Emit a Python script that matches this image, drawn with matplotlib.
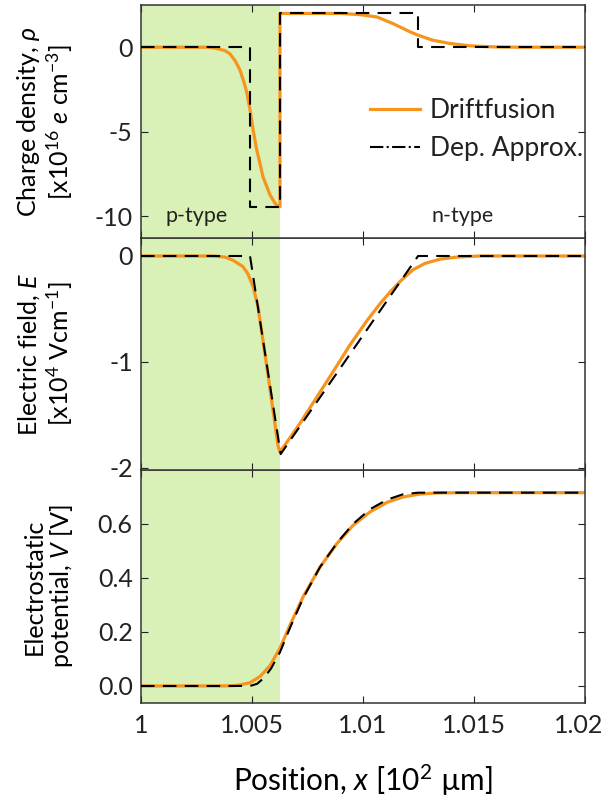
#!/usr/bin/env python3
"""p-n junction: Driftfusion vs depletion approximation (rho, E, V)."""
import matplotlib
matplotlib.use("Agg")
import matplotlib.pyplot as plt
from matplotlib.lines import Line2D
from matplotlib.transforms import ScaledTranslation

# ---- data (x in 10^2 um) ----
# charge density [1e16 e cm^-3]
rho_df_x = [1.0, 1.00300, 1.00333, 1.00378, 1.00401, 1.00424, 1.00446, 1.00462,
            1.00477, 1.00491, 1.00505, 1.00520, 1.00536, 1.00550, 1.00568,
            1.00581, 1.00595, 1.00607, 1.00617, 1.00626, 1.00626, 1.00900,
            1.00986, 1.01063, 1.01135, 1.01212, 1.01248, 1.01315, 1.01392,
            1.01482, 1.01586, 1.01700, 1.02]
rho_df_y = [0, 0, -0.05, -0.2, -0.4, -0.8, -1.36, -2.0, -2.7, -3.7, -4.9, -6.0,
            -6.9, -7.7, -8.3, -8.75, -9.05, -9.3, -9.4, -9.45, 2.0, 2.0, 1.93,
            1.79, 1.40, 0.91, 0.71, 0.41, 0.22, 0.08, 0.02, 0, 0]
rho_da_x = [1.0, 1.00491, 1.00491, 1.00626, 1.00626, 1.01248, 1.01248, 1.02]
rho_da_y = [0, 0, -9.45, -9.45, 2.0, 2.0, 0, 0]

# electric field [1e4 V cm^-1]
e_df_x = [1.0, 1.00320, 1.00378, 1.00414, 1.00459, 1.00482, 1.00505, 1.00527,
          1.00572, 1.00617, 1.00626, 1.00716, 1.00869, 1.00941, 1.01018,
          1.01077, 1.01122, 1.01167, 1.01225, 1.01279, 1.01347, 1.01423,
          1.01527, 1.02]
e_df_y = [0, 0, -0.01, -0.04, -0.10, -0.17, -0.29, -0.48, -1.12, -1.79, -1.85,
          -1.58, -1.08, -0.84, -0.61, -0.45, -0.34, -0.24, -0.13, -0.07, -0.03,
          -0.01, 0, 0]
e_da_x = [1.0, 1.00491, 1.00629, 1.01248, 1.02]
e_da_y = [0, 0, -1.87, 0, 0]

# electrostatic potential [V]
v_df_x = [1.0, 1.00360, 1.00414, 1.00446, 1.00491, 1.00536, 1.00581, 1.00626,
          1.00671, 1.00730, 1.00806, 1.00883, 1.00955, 1.01032, 1.01108,
          1.01180, 1.01257, 1.01333, 1.01437, 1.02]
v_df_y = [0, 0, 0.001, 0.004, 0.012, 0.035, 0.075, 0.140, 0.225, 0.330, 0.440,
          0.528, 0.595, 0.645, 0.680, 0.700, 0.711, 0.715, 0.716, 0.716]
v_da_x = [1.0, 1.00491, 1.00523, 1.00554, 1.00586, 1.00626, 1.00671, 1.00730,
          1.00806, 1.00883, 1.00955, 1.01032, 1.01108, 1.01180, 1.01248, 1.02]
v_da_y = [0, 0, 0.008, 0.03, 0.065, 0.125, 0.215, 0.325, 0.44, 0.53, 0.60,
          0.655, 0.69, 0.71, 0.716, 0.716]

p_region = (1.0, 1.00626)
x_ticks = [1, 1.005, 1.01, 1.015, 1.02]
x_tick_labels = ["1", "1.005", "1.01", "1.015", "1.02"]

ORANGE = "#f7941d"
GREEN = "#d9f0b6"
INK = "#222222"

plt.rcParams.update({
    "font.family": ["Lato", "DejaVu Sans"],
    "mathtext.fontset": "custom",
    "mathtext.rm": "Lato",
    "mathtext.it": "Lato:italic",
    "mathtext.bf": "Lato:bold",
    "axes.unicode_minus": False,
    "font.size": 18,
    "text.color": INK,
    "axes.edgecolor": "#333333",
    "axes.linewidth": 1.1,
    "xtick.color": INK,
    "ytick.color": INK,
})

TICK_FS = 18
LABEL_FS = 18


def style_axis(ax):
    ax.tick_params(direction="in", length=5, width=0.8, top=True, right=True,
                   labelsize=TICK_FS, pad=6)
    ax.tick_params(axis="x", pad=8)
    ax.set_xlim(1.0, 1.02)
    ax.set_xticks(x_ticks)
    ax.axvspan(*p_region, color=GREEN, lw=0, zorder=0)


def draw_pair(ax, xd, yd, xa, ya):
    ax.plot(xd, yd, color=ORANGE, lw=2.3, zorder=2)
    ax.plot(xa, ya, color="black", lw=1.5, dashes=(6.5, 4), zorder=3)


fig = plt.figure(figsize=(6.07, 8.07), dpi=100)
left, width = 0.2323, 0.7315
ax_v = fig.add_axes([left, 0.1289, width, 0.2887])
ax_e = fig.add_axes([left, 0.4176, width, 0.2875], sharex=ax_v)
ax_r = fig.add_axes([left, 0.7051, width, 0.2887], sharex=ax_v)

# charge density
style_axis(ax_r)
draw_pair(ax_r, rho_df_x, rho_df_y, rho_da_x, rho_da_y)
ax_r.set_ylim(-11.3, 2.5)
ax_r.set_yticks([-10, -5, 0])
ax_r.set_ylabel("Charge density, $\\rho$\n[x10$^{16}$ $e$ cm$^{-3}$]",
                fontsize=LABEL_FS, linespacing=1.1)
ax_r.text(1.00252, -10.0, "p-type", fontsize=15.5, ha="center", va="center")
ax_r.text(1.01450, -10.0, "n-type", fontsize=15.5, ha="center", va="center")
handles = [Line2D([], [], color=ORANGE, lw=2.3),
           Line2D([], [], color="black", lw=1.5, ls="-.")]
ax_r.legend(handles, ["Driftfusion", "Dep. Approx."], loc="upper right",
            bbox_to_anchor=(0.995, 0.60), frameon=False, fontsize=19,
            handlelength=1.9, handletextpad=0.35, labelspacing=0.5,
            borderpad=0, borderaxespad=0)

# electric field
style_axis(ax_e)
draw_pair(ax_e, e_df_x, e_df_y, e_da_x, e_da_y)
ax_e.set_ylim(-2.02, 0.17)
ax_e.set_yticks([-2, -1, 0])
ax_e.set_ylabel("Electric field, $E$\n[x10$^{4}$ Vcm$^{-1}$]",
                fontsize=LABEL_FS, linespacing=1.1)

# potential
style_axis(ax_v)
draw_pair(ax_v, v_df_x, v_df_y, v_da_x, v_da_y)
ax_v.set_ylim(-0.063, 0.80)
ax_v.set_yticks([0, 0.2, 0.4, 0.6])
ax_v.set_yticklabels(["0.0", "0.2", "0.4", "0.6"])
ax_v.set_ylabel("Electrostatic\npotential, $V$ [V]", fontsize=LABEL_FS,
                linespacing=1.1)
ax_v.set_xticklabels(x_tick_labels)
ax_v.set_xlabel("Position, $x$ [10$^{2}$ \u00b5m]", fontsize=21.5, labelpad=18)

# last x tick label sits at the figure edge: nudge it left a little
last = ax_v.get_xticklabels()[-1]
last.set_transform(last.get_transform()
                   + ScaledTranslation(-0.06, 0, fig.dpi_scale_trans))

for ax in (ax_r, ax_e):
    ax.tick_params(labelbottom=False)
for ax in (ax_r, ax_e, ax_v):
    ax.yaxis.set_label_coords(-0.148, 0.5)

fig.savefig("out.png", dpi=100)
